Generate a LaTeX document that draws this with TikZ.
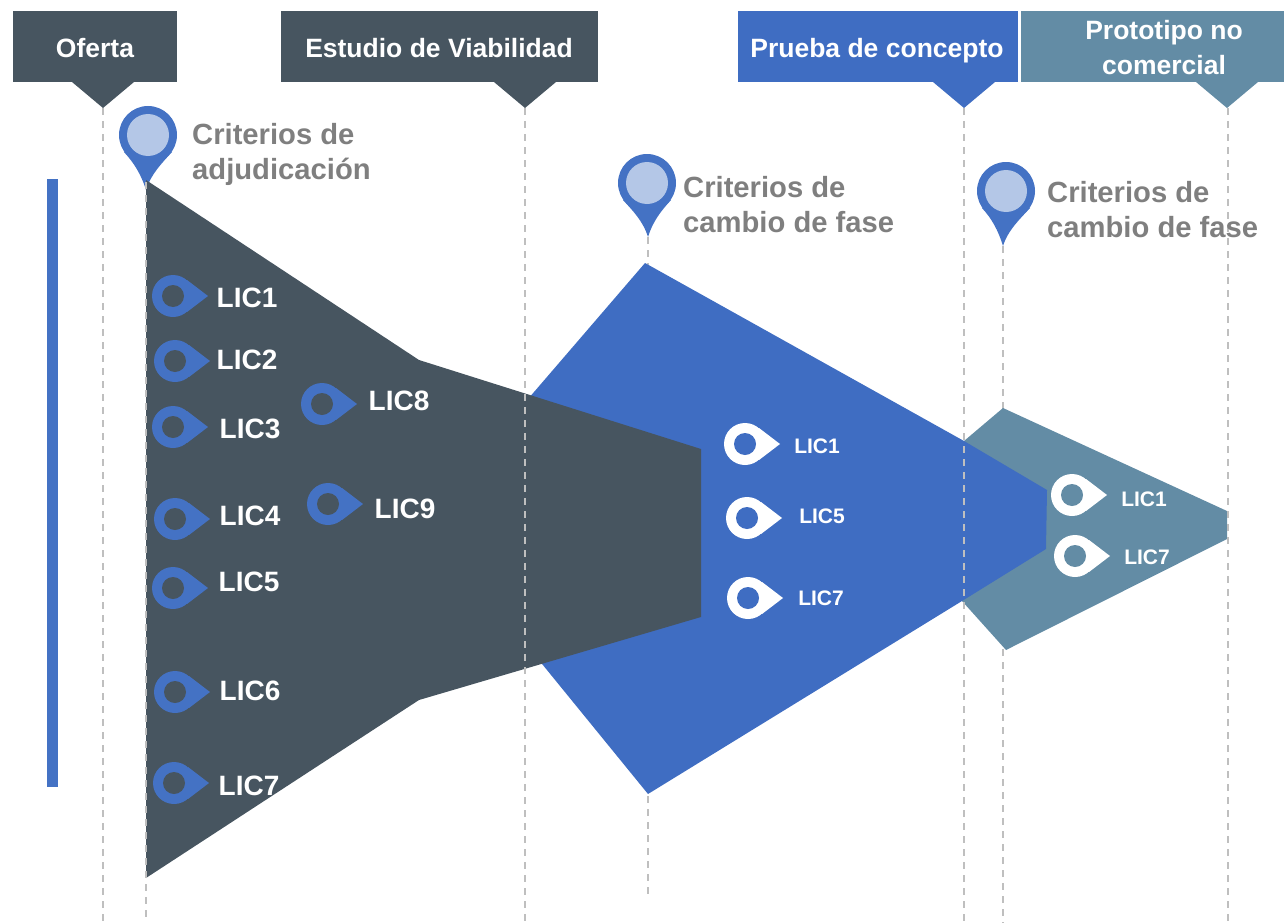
\documentclass[tikz,border=0pt]{standalone}
\usepackage{fontspec}
\setmainfont{Liberation Sans}
\definecolor{slatedark}{HTML}{475560}
\definecolor{phaseblue}{HTML}{3F6DC2}
\definecolor{phaseteal}{HTML}{638CA5}
\definecolor{pinblue}{HTML}{4472C4}
\definecolor{pinlight}{HTML}{B4C7E7}
\definecolor{guidegray}{HTML}{BFBFBF}
\definecolor{textgray}{HTML}{7F7F7F}
\tikzset{
    guide/.style={guidegray, line width=1.6pt, dash pattern=on 7pt off 6pt},
    phasebox/.style={text=white, inner sep=0pt, align=center, font=\fontsize{26.5}{35}\selectfont\bfseries},
    criteria/.style={text=textgray, anchor=west, inner sep=0pt, align=left, font=\fontsize{29.2}{35}\selectfont\bfseries},
    biglabel/.style={text=white, inner sep=0pt, font=\fontsize{28}{33}\selectfont\bfseries},
    smalllabel/.style={text=white, inner sep=0pt, font=\fontsize{21}{25}\selectfont\bfseries}
}
\begin{document}
\begin{tikzpicture}[x=1pt, y=-1pt]
    \useasboundingbox(0, 0)rectangle(1284, 923);
    % guides behind the shapes
    \foreach \name/\x/\top/\bot in {g2/648/237/900, g4/1003/246/923}{
        \coordinate(\name top)at(\x, \top);
        \coordinate(\name bot)at(\x, \bot);
        \draw[guide](\name top)--(\name bot);
    }
    % big pins
    \foreach \x/\y/\tipx/\tipy in {148/135/146/190, 647/183/648/237, 1006/191/1003/246}{
        \fill[pinblue](\x, \y)circle(29);
        \fill[pinblue](\x-24, \y+17) .. controls (\x-14, \y+28) and (\tipx-5, \tipy-16) .. (\tipx, \tipy) .. controls (\tipx+5, \tipy-16) and (\x+14, \y+28) .. (\x+24, \y+17)--cycle;
        \fill[pinlight](\x, \y)circle(21);
    }
    % the three phases
    \fill[phaseteal](964, 441)--(1003, 408)--(1227, 511)--(1227, 539)--(1006, 650)--(962, 601)--cycle;
    \fill[phaseblue](528, 399)--(645, 263)--(964, 441)--(1047, 490)--(1046, 549)--(962, 601)--(648, 794)--(538, 659)--cycle;
    \fill[slatedark](146, 180)--(419, 360)--(701, 449)--(701, 617)--(419, 700)--(146, 878)--cycle;
    % guides in front
    \foreach \name/\x/\top/\bot in {g0/103/108/923, g1/146/182/923, g3/525/108/923, g5/964/108/923, g6/1228/108/923}{
        \coordinate(\name top)at(\x, \top);
        \coordinate(\name bot)at(\x, \bot);
        \draw[guide](\name top)--(\name bot);
    }
    % side bar
    \fill[pinblue](47, 179)rectangle(58, 787);
    % header boxes
    \foreach \name/\xa/\xb/\tip/\col in {oferta/13/177/103/slatedark, estudio/281/598/525/slatedark, prueba/738/1018/964/phaseblue, prototipo/1021/1284/1227/phaseteal}{
        \fill[\col](\xa, 11)rectangle(\xb, 82);
        \fill[\col](\tip-31, 82)--(\tip, 108)--(\tip+31, 82)--cycle;
    }
    \node[phasebox](oferta)at(95, 48){Oferta};
    \node[phasebox](estudio)at(439, 48){Estudio de Viabilidad};
    \node[phasebox](prueba)at(877, 51){Prueba de concepto};
    \node[phasebox](prototipo)at(1164, 48){Prototipo no\\comercial};
    \node[criteria](crit1)at(192, 154){Criterios de\\adjudicación};
    \node[criteria](crit2)at(683, 205){Criterios de\\cambio de fase};
    \node[criteria](crit3)at(1047, 209.5){Criterios de\\cambio de fase};
    % small pins, dark phase
    \foreach \x/\y in {173/296, 175/361, 173/427, 175/519, 173/588, 175/692, 174/783, 322/404, 328/504}{
        \fill[pinblue](\x, \y)circle(21);
        \fill[pinblue](\x+14, \y-16)--(\x+35, \y)--(\x+14, \y+16)--cycle;
        \fill[slatedark](\x, \y)circle(11);
    }
    % small pins, blue phase
    \foreach \x/\y in {745/444, 747/518, 748/598}{
        \fill[white](\x, \y)circle(21);
        \fill[white](\x+14, \y-16)--(\x+35, \y)--(\x+14, \y+16)--cycle;
        \fill[phaseblue](\x, \y)circle(11);
    }
    % small pins, teal phase
    \foreach \x/\y in {1072/495, 1075/556}{
        \fill[white](\x, \y)circle(21);
        \fill[white](\x+14, \y-16)--(\x+35, \y)--(\x+14, \y+16)--cycle;
        \fill[phaseteal](\x, \y)circle(11);
    }
    % labels
    \foreach \name/\x/\y/\txt in {a1/247/298/LIC1, a2/247/360/LIC2, a3/250/429/LIC3, a4/250/516/LIC4, a5/249/582/LIC5, a6/250/691/LIC6, a7/249/786/LIC7, a8/399/401/LIC8, a9/405/509/LIC9}{
        \node[biglabel](\name)at(\x, \y){\txt};
    }
    \foreach \name/\x/\y/\txt in {b1/817/446/LIC1, b5/822/516/LIC5, b7/821/598/LIC7, c1/1144/499/LIC1, c7/1147/557/LIC7}{
        \node[smalllabel](\name)at(\x, \y){\txt};
    }
\end{tikzpicture}
\end{document}
